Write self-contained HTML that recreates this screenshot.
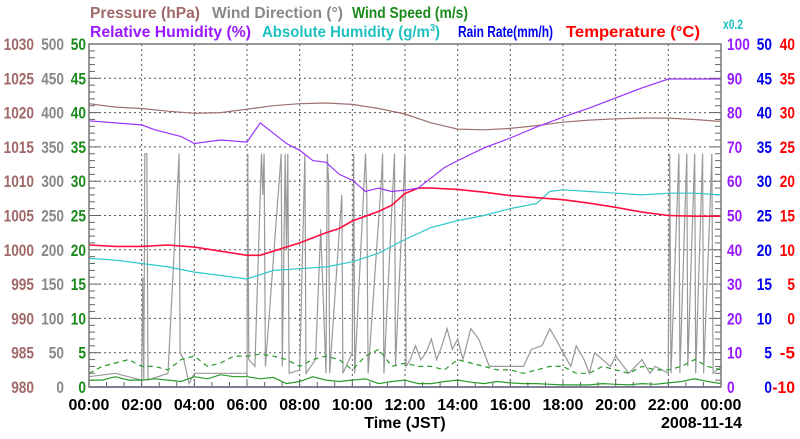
<!DOCTYPE html>
<html><head><meta charset="utf-8"><style>
body{margin:0;background:#fff}
svg text{font-family:"Liberation Sans",sans-serif;font-weight:bold}
</style></head><body>
<svg id="c" width="800" height="434" xmlns="http://www.w3.org/2000/svg">
<g font-size="16">
<text x="90" y="18" fill="#a06868" textLength="110" lengthAdjust="spacingAndGlyphs">Pressure (hPa)</text>
<text x="212" y="18" fill="#888" textLength="131" lengthAdjust="spacingAndGlyphs">Wind Direction (°)</text>
<text x="352" y="18" fill="#1a8a1a" textLength="116" lengthAdjust="spacingAndGlyphs">Wind Speed (m/s)</text>
<text x="90" y="37" fill="#9a1aff" textLength="161" lengthAdjust="spacingAndGlyphs">Relative Humidity (%)</text>
<text x="262" y="37" fill="#20c0c0" textLength="178" lengthAdjust="spacingAndGlyphs">Absolute Humidity (g/m<tspan font-size="10" dy="-6">3</tspan><tspan dy="6">)</tspan></text>
<text x="458" y="37" fill="#0000ee" textLength="95" lengthAdjust="spacingAndGlyphs">Rain Rate(mm/h)</text>
<text x="566" y="37" fill="#ff0000" textLength="134" lengthAdjust="spacingAndGlyphs">Temperature (°C)</text>
<text x="723" y="29" fill="#20c0c0" font-size="14" textLength="20" lengthAdjust="spacingAndGlyphs">x0.2</text>
</g>
<g id="grid"></g><g id="axes"></g><g id="series"></g>
<rect x="89" y="44" width="632" height="343" fill="none" stroke="#777" stroke-width="1.5"/>
<text x="405" y="428" font-size="16" text-anchor="middle">Time (JST)</text>
<text x="742" y="428" font-size="16" text-anchor="end">2008-11-14</text>
</svg>
<script>
const xTickLabels=["00:00","02:00","04:00","06:00","08:00","10:00","12:00","14:00","16:00","18:00","20:00","22:00","00:00"];
const pressureTicks=[980,985,990,995,1000,1005,1010,1015,1020,1025,1030];
const dirTicks=[0,50,100,150,200,250,300,350,400,450,500];
const speedTicks=[0,5,10,15,20,25,30,35,40,45,50];
const rhTicks=[0,10,20,30,40,50,60,70,80,90,100];
const rainTicks=[0,5,10,15,20,25,30,35,40,45,50];
const tempTicks=[-10,-5,0,5,10,15,20,25,30,35,40];

const pressureT=[0,1,2,3,4,5,6,7,8,9,10,11,12,13,14,15,16,17,18,19,20,21,22,23,24];
const pressureV=[1021.3,1020.8,1020.6,1020.2,1019.9,1020.0,1020.5,1021.0,1021.3,1021.4,1021.2,1020.6,1019.8,1018.5,1017.6,1017.5,1017.7,1018.1,1018.6,1018.9,1019.1,1019.2,1019.2,1019.0,1018.7];
const rhT=[0,1,2,2.5,3,3.5,4,5,6,6.5,7,7.5,8,8.5,9,9.5,10,10.5,11,11.5,12,12.5,13,13.5,14,15,16,17,18,19,20,21,22,23,24];
const rhV=[77.6,77,76.4,75,74,73,71,72,71.4,77,74,71,69,66,65.5,62,60.3,57,58,57,57.4,58,61,64,66,69.7,72.6,75.8,78.7,81.3,84.3,87.2,89.8,89.8,89.8];
const tempT=[0,1,2,3,4,5,6,6.5,7,8,9,9.5,10,11,11.5,12,12.5,13,14,15,16,17,18,19,20,21,22,23,24];
const tempV=[10.7,10.5,10.5,10.7,10.4,9.8,9.2,9.2,9.8,11,12.5,13.1,14.2,15.6,16.5,18.2,19,19,18.8,18.4,17.9,17.6,17.3,16.8,16.2,15.5,15,14.9,14.9];
const absT=[0,1,2,3,4,5,6,7,8,9,10,11,11.5,12,13,14,15,16,17,17.5,18,19,20,21,22,23,24];
const absV=[7.5,7.4,7.2,7.0,6.7,6.5,6.3,6.8,6.9,7.0,7.3,7.8,8.2,8.6,9.3,9.7,10.0,10.4,10.7,11.4,11.5,11.4,11.3,11.2,11.3,11.3,11.2];
const dirT=[0,1,2,2.04,2.08,2.12,2.2,2.24,3,3.42,3.46,3.6,3.8,4,5,6,6.03,6.07,6.3,6.55,6.6,6.65,6.7,7.3,7.34,7.45,7.5,7.55,7.6,8,8.2,8.24,8.6,8.8,9,9.05,9.1,9.14,9.6,9.64,10,10.05,10.09,10.5,10.55,10.6,11.1,11.15,11.2,11.6,11.64,12,12.04,12.2,12.4,12.6,12.8,13,13.2,13.4,13.6,13.8,14,14.2,14.5,14.8,15.2,16,16.5,16.8,17.2,17.5,17.8,18,18.3,18.5,18.8,19,19.2,19.5,19.8,20,20.5,21,21.3,21.5,22,22.05,22.1,22.4,22.44,22.7,22.74,23,23.04,23.3,23.34,23.6,23.65,23.7,24];
const dirV=[15,20,10,160,10,340,340,10,20,340,50,40,5,20,20,20,340,40,30,340,280,340,30,340,30,340,200,340,20,25,340,20,40,230,20,340,300,20,280,20,50,340,20,340,280,20,300,340,20,340,30,340,30,40,60,40,50,70,40,60,85,55,70,40,85,70,30,30,30,55,60,85,65,50,30,60,40,20,50,40,30,45,20,40,20,30,20,340,20,340,20,340,30,340,20,340,20,280,340,20,30];
const speedV=[1,1,1.5,1,1,1.2,1,0.8,1.5,1.2,1.8,1.5,1.5,1.2,1.4,0.5,0.8,1.5,1,0.8,1,1.2,0.5,0.8,1,0.5,0.5,0.8,1,0.7,0.5,0.8,0.6,0.5,0.5,0.4,0.3,0.3,0.3,0.5,0.4,0.3,0.5,0.4,0.6,0.8,1.2,0.8,0.5];
const gustV=[2,3,3.5,4,3,3,2.5,4,4.5,3,3.5,4.5,4.5,4.8,4.5,4,3,4,4.5,4,2.5,4.5,5.5,3,3.5,3,3,2.5,4,3.5,3,2.5,2.5,2,2.5,3,3,2,2,3,2.5,2,3,2.5,2.5,3,4,3,2.5];
const rainV=[0,0,0,0,0,0,0,0,0,0,0,0,0,0,0,0,0,0,0,0,0,0,0,0,0];

const L=89,R=721,T=44,B=387,NS="http://www.w3.org/2000/svg";
const xs=h=>L+h/24*(R-L);
const yf=f=>B-f*(B-T);
const yP=v=>yf((v-980)/50), yD=v=>yf(v/500), yS=v=>yf(v/50), yRH=v=>yf(v/100), yRain=v=>yf(v/50), yTmp=v=>yf((v+10)/50), yAbs=v=>yf(v/0.2/100);
function mk(tag,attrs,parent){const e=document.createElementNS(NS,tag);for(const k in attrs)e.setAttribute(k,attrs[k]);parent.appendChild(e);return e;}
const grid=document.getElementById('grid'),axes=document.getElementById('axes'),ser=document.getElementById('series');
for(let i=1;i<10;i++){const y=yf(i/10);const g=mk('line',{x1:L,x2:R,y1:y,y2:y,stroke:'#555','stroke-dasharray':'2,3'},grid);

}
for(let i=1;i<12;i++){const x=xs(i*2);const g=mk('line',{x1:x,x2:x,y1:T,y2:B,stroke:'#555','stroke-dasharray':'2,3'},grid);

}
for(let i=0;i<=50;i++){const y=B-i*(B-T)/50;const w=i%5==0?10:6;
mk('line',{x1:L,x2:L+w,y1:y,y2:y,stroke:'#666'},axes);mk('line',{x1:R-w,x2:R,y1:y,y2:y,stroke:'#666'},axes);}
for(let i=0;i<=36;i++){const x=xs(i*2/3);mk('line',{x1:x,x2:x,y1:B,y2:B-(i%3==0?8:5),stroke:'#666'},axes);}
function col(ticks,x,anchor,color,name){ticks.forEach((v,i)=>{const s=String(v);const t=mk('text',{x:x,y:yf(i/10)+6,'text-anchor':anchor,fill:color,'font-size':17,textLength:(s.length*7.6).toFixed(1),lengthAdjust:'spacingAndGlyphs'},axes);t.textContent=s;

});}
col(pressureTicks,34,'end','#a06868','pressure-tick');
col(dirTicks,64,'end','#888','wind-direction-tick');
col(speedTicks,86,'end','#1a8a1a','wind-speed-tick');
col(rhTicks,727,'start','#9a1aff','rh-tick');
col(rainTicks,772,'end','#0000ee','rain-tick');
col(tempTicks,795,'end','#ff0000','temperature-tick');
xTickLabels.forEach((s,i)=>{const t=mk('text',{x:xs(i*2),y:410,'text-anchor':'middle','font-size':16,fill:'#000'},axes);t.textContent=s;

});
function line(T_,V,yfn,color,name,extra){const d=V.map((v,i)=>(i?'L':'M')+xs(T_[i]).toFixed(1)+','+yfn(v).toFixed(1)).join('');
const p=mk('path',Object.assign({d:d,fill:'none',stroke:color,'stroke-width':1.2},extra||{}),ser);

}
const halfT=speedV.map((_,i)=>i*0.5), rainT=rainV.map((_,i)=>i);
line(dirT,dirV,yD,'#999','wind-direction-line');
line(halfT,gustV,yS,'#2a9a2a','wind-gust-line',{'stroke-dasharray':'5,4'});
line(halfT,speedV,yS,'#2a9a2a','wind-speed-line');
line(rainT,rainV,yRain,'#3333dd','rain-rate-line',{'stroke-width':1.5});
line(pressureT,pressureV,yP,'#a07070','pressure-line');
line(absT,absV,yAbs,'#30c8c8','absolute-humidity-line');
line(tempT,tempV,yTmp,'#ff1040','temperature-line',{'stroke-width':1.6});
line(rhT,rhV,yRH,'#9a33ff','relative-humidity-line');
</script>
</body></html>
